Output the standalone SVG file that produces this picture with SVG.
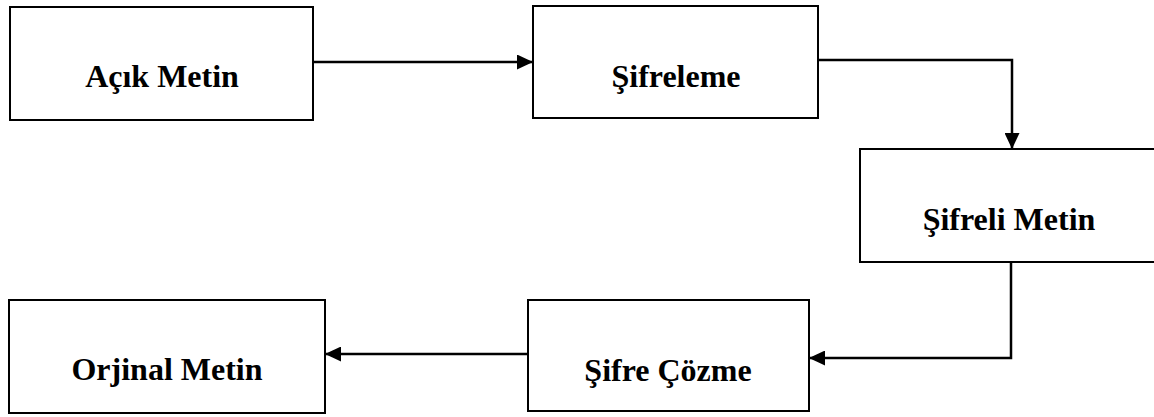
<svg xmlns="http://www.w3.org/2000/svg" width="1154" height="417" viewBox="0 0 1154 417">
  <style>
    .box { fill: #ffffff; stroke: #000000; stroke-width: 2; }
    .label { font-family: "Liberation Serif", "Times New Roman", serif; font-weight: bold; font-size: 32px; fill: #000000; text-anchor: middle; }
    .conn { fill: none; stroke: #000000; stroke-width: 2.5; }
  </style>
  <defs>
    <marker id="arrow" markerUnits="userSpaceOnUse" markerWidth="16" markerHeight="15" refX="16" refY="7.5" orient="auto">
      <path d="M0,0 L16,7.5 L0,15 Z" fill="#000000"/>
    </marker>
  </defs>
  <rect width="1154" height="417" fill="#ffffff"/>

  <g id="node-acik-metin">
    <rect class="box" x="10" y="7" width="303" height="113"/>
    <text class="label" x="162" y="87">Açık Metin</text>
  </g>
  <g id="node-sifreleme">
    <rect class="box" x="533" y="6" width="285" height="112"/>
    <text class="label" x="676" y="87">Şifreleme</text>
  </g>
  <g id="node-sifreli-metin">
    <rect class="box" x="860" y="149" width="298" height="113"/>
    <text class="label" x="1009" y="230">Şifreli Metin</text>
  </g>
  <g id="node-sifre-cozme">
    <rect class="box" x="528" y="300" width="281" height="111"/>
    <text class="label" x="668" y="381">Şifre Çözme</text>
  </g>
  <g id="node-orjinal-metin">
    <rect class="box" x="9" y="300" width="316" height="113"/>
    <text class="label" x="167" y="380">Orjinal Metin</text>
  </g>

  <g id="connectors">
    <path class="conn" d="M313,62 L533,62" marker-end="url(#arrow)"/>
    <path class="conn" d="M818,60 L1012,60 L1012,149" marker-end="url(#arrow)"/>
    <path class="conn" d="M1011,262 L1011,358 L809,358" marker-end="url(#arrow)"/>
    <path class="conn" d="M528,354 L325,354" marker-end="url(#arrow)"/>
  </g>
</svg>
